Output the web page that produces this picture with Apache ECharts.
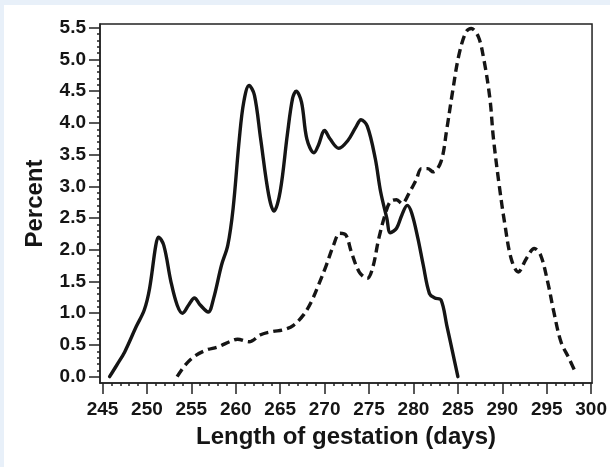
<!DOCTYPE html>
<html>
<head>
<meta charset="utf-8">
<script src="https://cdn.jsdelivr.net/npm/echarts@6/dist/echarts.min.js"></script>
<style>
html,body{margin:0;padding:0;width:610px;height:467px;background:#e8f0f9;overflow:hidden;}
#chart{position:absolute;left:4px;top:5px;width:606px;height:462px;background:#ffffff;}
</style>
</head>
<body>
<div id="chart"></div>
<script>
// ---- data ----
var solidDays = [245.8, 246.6, 247.5, 248.8, 249.7, 250.3, 251.0, 251.3, 251.9, 252.7, 253.4, 254.0, 254.7, 255.35, 256.0, 256.9, 257.5, 258.4, 259.1, 259.7, 260.4, 260.9, 261.5, 262.1, 262.8, 263.7, 264.3, 265.0, 265.8, 266.4, 266.8, 267.4, 268.0, 268.8, 269.3, 270.0, 270.6, 271.6, 272.6, 273.5, 274.1, 274.8, 275.7, 276.3, 277.0, 277.4, 278.1, 278.7, 279.3, 279.8, 280.5, 281.1, 281.8, 282.4, 283.1, 283.75, 284.4, 285.0];
var solidPct = [0, 0.18, 0.39, 0.79, 1.05, 1.39, 2.07, 2.2, 2.07, 1.5, 1.13, 1.0, 1.13, 1.24, 1.13, 1.02, 1.23, 1.76, 2.07, 2.65, 3.75, 4.33, 4.59, 4.44, 3.75, 2.87, 2.61, 2.92, 3.81, 4.39, 4.5, 4.33, 3.75, 3.53, 3.65, 3.88, 3.75, 3.6, 3.72, 3.93, 4.05, 3.95, 3.44, 2.92, 2.5, 2.27, 2.34, 2.55, 2.7, 2.58, 2.18, 1.76, 1.31, 1.24, 1.21, 0.81, 0.39, 0];

var dashDays = [253.4, 254.3, 255.35, 256.7, 258.0, 259.3, 260.2, 261.5, 262.8, 264.1, 265.4, 266.5, 267.6, 268.5, 269.3, 270.2, 271.0, 271.7, 272.4, 273.0, 273.9, 274.8, 275.4, 276.1, 276.8, 277.4, 278.1, 278.7, 279.6, 280.3, 280.9, 281.6, 282.2, 283.1, 283.75, 284.4, 285.1, 285.9, 286.5, 287.3, 287.9, 288.6, 289.0, 289.65, 290.3, 291.0, 291.8, 292.7, 293.6, 294.3, 295.1, 295.8, 296.6, 297.5, 298.3];
var dashPct = [0, 0.18, 0.32, 0.42, 0.47, 0.55, 0.59, 0.55, 0.66, 0.71, 0.74, 0.81, 0.97, 1.18, 1.44, 1.76, 2.07, 2.26, 2.23, 1.97, 1.65, 1.55, 1.71, 2.18, 2.55, 2.76, 2.79, 2.73, 2.92, 3.1, 3.28, 3.28, 3.23, 3.39, 3.9, 4.49, 5.06, 5.43, 5.49, 5.36, 5.02, 4.39, 3.76, 3.02, 2.39, 1.86, 1.65, 1.86, 2.02, 1.92, 1.5, 1.02, 0.55, 0.29, 0.05];

var xTickValues = [245, 250, 255, 260, 265, 270, 275, 280, 285, 290, 295, 300];
var xMinorTickValues = [246,247,248,249,251,252,253,254,256,257,258,259,261,262,263,264,266,267,268,269,271,272,273,274,276,277,278,279,281,282,283,284,286,287,288,289,291,292,293,294,296,297,298,299];
var yTickValues = [0, 0.5, 1.0, 1.5, 2.0, 2.5, 3.0, 3.5, 4.0, 4.5, 5.0, 5.5];
var yMinorTickValues = [0.1,0.2,0.3,0.4,0.6,0.7,0.8,0.9,1.1,1.2,1.3,1.4,1.6,1.7,1.8,1.9,2.1,2.2,2.3,2.4,2.6,2.7,2.8,2.9,3.1,3.2,3.3,3.4,3.6,3.7,3.8,3.9,4.1,4.2,4.3,4.4,4.6,4.7,4.8,4.9,5.1,5.2,5.3,5.4];

var xTitle = 'Length of gestation (days)';
var yTitle = 'Percent';

function pairs(xs, ys) { return xs.map(function (x, i) { return [x, ys[i]]; }); }

var FONT = '"Liberation Sans", Arial, Helvetica, sans-serif';
var INK = '#151515';
var X_MIN = 244.72, X_MAX = 300.1, Y_MIN = -0.1, Y_MAX = 5.56;

var chart = echarts.init(document.getElementById('chart'), null, {renderer: 'canvas'});
chart.setOption({
  backgroundColor: '#ffffff',
  animation: false,
  grid: {left: 96, right: 17, top: 19, bottom: 84, show: true, borderColor: '#222', borderWidth: 1.5, backgroundColor: 'transparent'},
  xAxis: [
    {
      type: 'value', position: 'bottom', min: X_MIN, max: X_MAX,
      name: xTitle, nameLocation: 'middle', nameGap: 42,
      nameTextStyle: {fontFamily: FONT, fontWeight: 'bold', fontSize: 24, color: INK},
      axisLine: {show: true, onZero: false, lineStyle: {color: '#222', width: 1.5}},
      axisTick: {show: true, customValues: xTickValues, length: 11, lineStyle: {color: '#222', width: 1.5}},
      axisLabel: {show: true, customValues: xTickValues, margin: 17, fontFamily: FONT, fontWeight: 'bold', fontSize: 19, color: INK,
        formatter: function (v) { return String(Math.round(v)); }},
      splitLine: {show: false}
    },
    {
      type: 'value', position: 'bottom', offset: 0, min: X_MIN, max: X_MAX,
      axisLine: {show: false, onZero: false},
      axisTick: {show: true, customValues: xMinorTickValues, length: 3, lineStyle: {color: '#222', width: 1.5}},
      axisLabel: {show: false},
      splitLine: {show: false}
    }
  ],
  yAxis: [
    {
      type: 'value', position: 'left', min: Y_MIN, max: Y_MAX,
      name: yTitle, nameLocation: 'middle', nameGap: 53, nameRotate: 90,
      nameTextStyle: {fontFamily: FONT, fontWeight: 'bold', fontSize: 24, color: INK},
      axisLine: {show: true, onZero: false, lineStyle: {color: '#222', width: 1.5}},
      axisTick: {show: true, customValues: yTickValues, length: 11, lineStyle: {color: '#222', width: 1.5}},
      axisLabel: {show: true, customValues: yTickValues, margin: 14, fontFamily: FONT, fontWeight: 'bold', fontSize: 19, color: INK,
        formatter: function (v) { return v.toFixed(1); }},
      splitLine: {show: false}
    },
    {
      type: 'value', position: 'left', offset: 0, min: Y_MIN, max: Y_MAX,
      axisLine: {show: false, onZero: false},
      axisTick: {show: true, customValues: yMinorTickValues, length: 3, lineStyle: {color: '#222', width: 1.5}},
      axisLabel: {show: false},
      splitLine: {show: false}
    }
  ],
  series: [
    {
      type: 'line', xAxisIndex: 0, yAxisIndex: 0,
      data: pairs(solidDays, solidPct),
      smooth: 0.35, symbol: 'none',
      lineStyle: {color: INK, width: 3.4, type: 'solid', cap: 'round', join: 'round'}
    },
    {
      type: 'line', xAxisIndex: 0, yAxisIndex: 0,
      data: pairs(dashDays, dashPct),
      smooth: 0.35, symbol: 'none',
      lineStyle: {color: INK, width: 3.4, type: [9, 5], join: 'round'}
    }
  ]
});
</script>
</body>
</html>
